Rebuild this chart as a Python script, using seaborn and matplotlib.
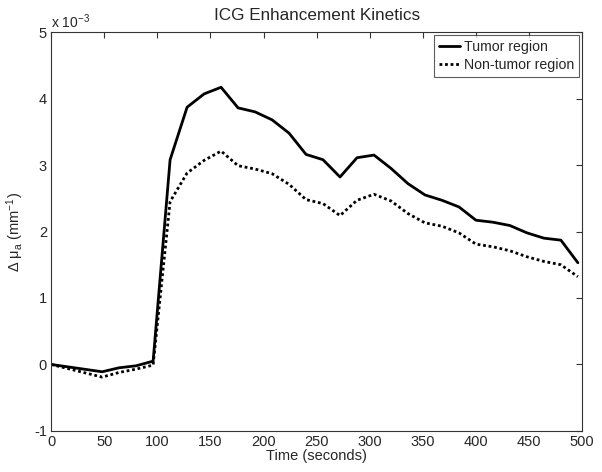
import numpy as np
import pandas as pd
import matplotlib
matplotlib.use("Agg")
import matplotlib.pyplot as plt
from matplotlib.ticker import FuncFormatter
import seaborn as sns

# time axis (seconds) and ICG absorption change, in units of 1e-3 mm^-1
time_s = [0, 48, 64, 80, 96, 112, 128, 144, 160, 176, 192, 208, 224, 240, 256,
          272, 288, 304, 320, 336, 352, 368, 384, 400, 416, 432, 448, 464, 480, 496]
tumor = [0.0, -0.11, -0.05, -0.02, 0.05, 3.08, 3.87, 4.07, 4.17, 3.86, 3.80, 3.68,
         3.48, 3.16, 3.08, 2.82, 3.11, 3.15, 2.95, 2.72, 2.55, 2.47, 2.37, 2.17,
         2.14, 2.09, 1.98, 1.90, 1.87, 1.53]
non_tumor = [0.0, -0.19, -0.12, -0.07, -0.01, 2.45, 2.88, 3.07, 3.21, 2.99, 2.94,
             2.87, 2.71, 2.48, 2.42, 2.24, 2.47, 2.56, 2.46, 2.27, 2.13, 2.08, 1.98,
             1.81, 1.77, 1.71, 1.62, 1.55, 1.50, 1.32]
scale = 1e-3

sns.set_style("white")
plt.rcParams['font.family'] = ['Liberation Sans', 'DejaVu Sans']
plt.rcParams['mathtext.default'] = 'regular'

df = pd.DataFrame({
    "time": time_s * 2,
    "dmua": np.array(tumor + non_tumor) * scale,
    "region": ["Tumor region"] * len(time_s) + ["Non-tumor region"] * len(time_s),
})

fig = plt.figure(figsize=(6.02, 4.72), dpi=100)
ax = fig.add_axes([0.085, 0.087, 0.882, 0.845])

sns.lineplot(data=df, x="time", y="dmua", hue="region", style="region",
             palette=["black", "black"], dashes={"Tumor region": "", "Non-tumor region": (1, 1)},
             linewidth=2.0, ax=ax)

ax.set_xlim(0, 500)
ax.set_ylim(-1 * scale, 5 * scale)
ax.set_xticks(np.arange(0, 501, 50))
ax.set_yticks(np.arange(-1, 6) * scale)
ax.yaxis.set_major_formatter(FuncFormatter(lambda v, p: f"{v / scale:.0f}"))
ax.tick_params(direction="in", length=4, width=0.8, labelsize=10.5,
               top=True, right=True, pad=3, color="#333333")
for s in ax.spines.values():
    s.set_color("#333333")
    s.set_linewidth(0.8)

ax.text(0.0, 1.003, r"x 10$^{-3}$", transform=ax.transAxes, fontsize=10,
        ha="left", va="bottom")
ax.set_title("ICG Enhancement Kinetics", fontsize=12.3, pad=9)
ax.set_xlabel("Time (seconds)", fontsize=10.5, labelpad=0)
ax.set_ylabel(r"Δ μ$_a$ (mm$^{-1}$)", fontsize=10.5, labelpad=6)

leg = ax.legend(loc="upper right", fontsize=10.2, frameon=True, fancybox=False,
                handlelength=1.5, handletextpad=0.3, borderpad=0.35,
                labelspacing=0.3, borderaxespad=0.2)
leg.get_frame().set_edgecolor("#333333")
leg.get_frame().set_linewidth(0.8)
for line in leg.get_lines():
    line.set_linewidth(2.0)

fig.savefig("out.png", dpi=100)
